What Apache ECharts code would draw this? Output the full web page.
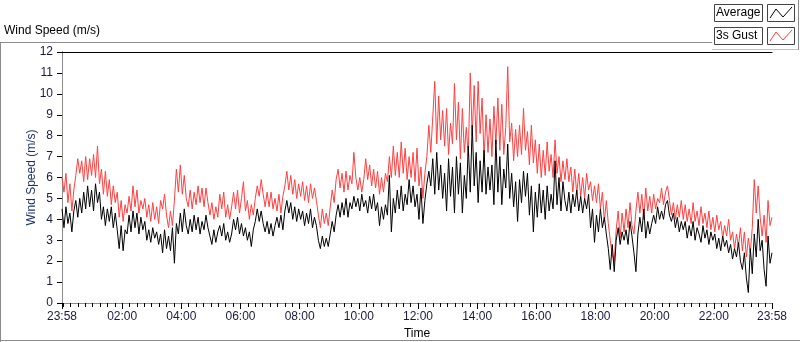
<!DOCTYPE html>
<html>
<head>
<meta charset="utf-8">
<script src="https://cdn.jsdelivr.net/npm/echarts@6/dist/echarts.min.js"></script>
<style>
html, body { margin: 0; padding: 0; background: #fff; }
#chart { width: 800px; height: 342px; }
</style>
</head>
<body>
<div id="chart"></div>
<script>
// one sample every 4 minutes, first sample at 23:58
const STEP = 4

// average wind speed (m/s), one row per hour
const avg = [
    4.5, 3.6, 4.6, 3.8, 4.3, 3.4, 4.4, 4.9, 4.1, 5.0, 4.3, 5.3, 4.5, 5.6, 4.6,
    5.4, 4.4, 5.7, 4.8, 5.3, 4.0, 4.6, 3.7, 4.5, 3.9, 4.6, 3.6, 4.3, 3.5, 2.6,
    3.7, 2.5, 3.5, 3.3, 4.2, 3.4, 4.4, 3.6, 4.3, 3.3, 4.1, 3.5, 3.9, 3.0, 3.5,
    2.9, 3.6, 3.1, 3.4, 2.8, 3.3, 2.4, 3.5, 2.6, 3.2, 2.5, 3.6, 1.9, 3.8, 3.3,
    4.3, 3.4, 4.5, 3.7, 3.3, 4.0, 3.4, 4.2, 3.5, 4.1, 3.3, 3.9, 3.5, 4.2, 3.6,
    3.2, 2.8, 3.5, 2.9, 3.4, 3.7, 3.2, 3.8, 3.0, 3.4, 2.9, 3.3, 4.0, 3.5, 4.1,
    3.3, 3.8, 3.2, 3.6, 3.0, 3.4, 2.7, 3.5, 3.9, 4.5, 3.9, 4.4, 3.8, 3.4, 3.9,
    3.3, 3.8, 3.2, 3.7, 4.1, 3.6, 4.2, 3.5, 4.4, 4.9, 4.3, 4.8, 4.0, 4.6, 3.9,
    4.5, 4.0, 4.4, 3.7, 4.3, 3.8, 4.5, 3.6, 4.1, 3.7, 3.0, 2.6, 3.2, 2.7, 3.1,
    2.7, 3.3, 3.9, 3.4, 4.2, 4.7, 4.1, 4.8, 4.2, 5.0, 4.1, 4.8, 4.5, 5.1, 4.6,
    5.0, 4.4, 5.2, 4.6, 4.9, 4.3, 5.1, 4.5, 5.2, 4.4, 4.8, 3.7, 4.6, 4.0, 4.7,
    4.2, 6.1, 3.4, 5.0, 4.3, 5.4, 4.5, 5.6, 4.4, 5.2, 4.7, 5.9, 4.8, 5.6, 4.6,
    5.2, 4.0, 5.5, 3.8, 4.9, 5.7, 6.3, 5.6, 6.9, 5.2, 7.2, 5.4, 6.6, 5.0, 6.2,
    4.4, 6.9, 5.1, 6.5, 4.3, 7.0, 5.2, 6.7, 4.3, 6.1, 5.0, 7.5, 5.3, 8.5, 5.6,
    7.2, 4.8, 6.8, 5.3, 7.3, 5.2, 6.5, 5.4, 6.6, 4.7, 7.8, 5.3, 7.0, 4.7, 6.4,
    5.5, 7.6, 5.0, 6.2, 4.6, 5.8, 3.9, 5.9, 4.8, 6.3, 5.1, 6.2, 4.2, 5.6, 3.4,
    5.3, 4.1, 5.7, 4.3, 5.4, 4.0, 5.6, 4.4, 5.2, 4.5, 6.8, 4.7, 6.0, 4.4, 5.8,
    4.9, 4.4, 5.3, 4.3, 5.2, 4.6, 5.4, 4.4, 5.1, 4.3, 5.0, 4.5, 5.2, 3.6, 4.5,
    2.9, 4.2, 3.4, 4.5, 3.6, 4.1, 3.3, 2.6, 1.6, 2.8, 1.5, 3.0, 3.6, 2.8, 3.4,
    3.0, 3.5, 2.8, 3.9, 3.2, 2.4, 1.5, 3.3, 4.1, 3.4, 4.5, 3.1, 3.9, 3.3, 3.8,
    4.2, 3.8, 4.6, 4.0, 4.4, 4.0, 4.7, 4.9, 4.2, 3.9, 4.3, 3.6, 4.1, 3.4, 3.9,
    3.5, 3.9, 3.1, 3.7, 3.2, 3.9, 3.0, 3.6, 3.3, 2.9, 3.7, 3.1, 3.5, 2.8, 3.4,
    3.0, 3.3, 2.6, 3.1, 2.5, 3.2, 2.7, 3.0, 2.4, 2.8, 2.1, 2.6, 2.2, 2.9, 2.0,
    1.6, 2.4, 1.2, 0.5, 2.6, 1.4, 3.3, 2.2, 4.0, 2.5, 3.0, 1.6, 0.8, 3.2, 1.9, 2.4
]

// 3 second gust (m/s), one row per hour
const gust = [
    6.0, 5.3, 6.2, 4.8, 5.7, 4.4, 5.4, 6.1, 6.9, 6.2, 6.8, 5.8, 7.0, 5.9, 6.9,
    6.1, 7.1, 6.0, 7.5, 5.7, 6.4, 5.2, 6.3, 5.1, 5.9, 4.7, 5.6, 4.8, 5.3, 4.1,
    4.9, 3.9, 4.7, 4.3, 5.1, 4.4, 5.6, 4.6, 5.4, 4.3, 4.9, 4.5, 5.0, 4.1, 4.7,
    3.9, 4.8, 4.0, 4.6, 3.8, 4.9, 4.5, 5.2, 4.2, 3.6, 4.4, 3.7, 4.9, 6.4, 5.3,
    6.6, 5.2, 6.1, 5.0, 4.6, 5.4, 4.5, 5.3, 4.7, 5.6, 4.8, 5.5, 4.6, 5.5, 4.8,
    4.2, 4.8, 4.0, 4.6, 4.1, 5.2, 4.5, 5.3, 4.1, 4.7, 4.0, 4.6, 5.3, 4.5, 5.4,
    4.3, 5.0, 5.8, 4.4, 4.9, 4.0, 4.7, 4.2, 5.0, 5.6, 5.1, 5.9, 5.2, 4.6, 5.3,
    4.6, 5.3, 4.5, 5.0, 4.4, 5.2, 4.3, 5.1, 5.6, 6.3, 5.4, 6.1, 5.2, 5.9, 5.0,
    5.7, 5.1, 5.8, 4.9, 5.6, 4.8, 5.7, 5.0, 5.5, 4.9, 4.2, 3.6, 4.5, 3.8, 4.3,
    3.7, 4.6, 5.4, 4.8, 5.9, 6.4, 5.5, 6.2, 5.3, 6.3, 5.4, 6.1, 5.7, 7.2, 6.0,
    5.4, 6.0, 5.3, 5.9, 6.9, 5.9, 6.6, 5.6, 6.4, 5.5, 6.3, 5.2, 6.0, 5.3, 6.2,
    5.8, 7.0, 6.0, 7.5, 6.1, 7.2, 6.0, 7.7, 6.2, 7.4, 5.9, 7.0, 6.0, 7.2, 5.8,
    7.4, 5.6, 6.5, 5.0, 6.2, 7.0, 8.5, 7.2, 8.9, 10.6, 7.6, 9.9, 7.8, 9.2, 7.5,
    9.3, 7.1, 8.6, 7.6, 10.5, 7.8, 9.6, 6.9, 9.3, 7.2, 8.4, 7.0, 11.0, 8.0, 10.4,
    7.7, 10.6, 8.1, 9.8, 6.9, 9.0, 7.2, 8.8, 7.0, 9.4, 7.6, 9.8, 7.3, 9.5, 7.1,
    8.4, 11.3, 7.7, 8.6, 6.8, 8.3, 7.0, 8.5, 7.1, 9.3, 7.3, 8.2, 6.6, 8.5, 6.7,
    7.8, 6.2, 7.6, 6.0, 7.3, 6.1, 7.7, 6.3, 7.1, 6.0, 7.8, 6.2, 7.0, 5.8, 6.8,
    5.9, 6.9, 5.8, 6.5, 5.3, 6.4, 5.2, 6.2, 5.1, 6.0, 5.0, 6.2, 5.4, 5.8, 4.9,
    5.6, 4.8, 5.7, 4.5, 5.3, 3.9, 4.9, 3.8, 3.0, 2.3, 2.0, 3.5, 4.4, 3.1, 4.3,
    3.4, 4.5, 3.6, 4.8, 3.7, 3.3, 4.4, 5.3, 4.3, 5.2, 4.0, 5.5, 4.4, 5.1, 4.3,
    5.2, 4.5, 5.0, 4.8, 5.5, 4.7, 5.3, 5.6, 4.9, 4.2, 4.8, 4.0, 4.7, 4.1, 4.9,
    4.0, 4.7, 3.9, 4.5, 3.8, 4.8, 3.9, 4.4, 3.7, 4.6, 3.8, 4.3, 3.6, 4.4, 3.5,
    4.1, 3.4, 4.2, 3.5, 3.9, 3.1, 3.7, 3.2, 4.0, 3.0, 3.4, 2.6, 3.3, 2.7, 3.6,
    2.5, 3.4, 2.2, 3.1, 2.4, 3.6, 5.9, 4.3, 5.6, 4.1, 3.2, 4.2, 2.9, 4.9, 3.7, 4.1
]

// x axis: minutes after 23:58
const majorTicks = [0, 122, 242, 362, 482, 602, 722, 842, 962, 1082, 1202, 1322, 1440]
const tickLabels = ['23:58', '02:00', '04:00', '06:00', '08:00', '10:00', '12:00',
    '14:00', '16:00', '18:00', '20:00', '22:00', '23:58']
const minorTicks = []
for (let m = 2; m < 1440; m += 15) {
    if (majorTicks.indexOf(m) < 0) minorTicks.push(m)
}

const FONT = "'Liberation Sans', Arial, sans-serif"
const GREY = '#8c8c8c'

const chart = echarts.init(document.getElementById('chart'))

chart.setOption({
    animation: false,
    backgroundColor: '#fff',
    textStyle: { fontFamily: FONT },
    grid: {
        left: 62,
        right: 28,
        top: 52,
        bottom: 39,
        outerBoundsMode: 'none'
    },
    xAxis: [
        {
            type: 'value',
            min: 0,
            max: 1440,
            name: 'Time',
            nameLocation: 'middle',
            nameGap: 25,
            nameMoveOverlap: false,
            nameTextStyle: { color: '#000', fontSize: 12, fontFamily: FONT },
            axisLine: { lineStyle: { color: GREY, width: 1 } },
            axisTick: {
                customValues: majorTicks,
                length: 6,
                lineStyle: { color: '#000', width: 1 }
            },
            axisLabel: {
                customValues: majorTicks,
                margin: 8,
                color: '#1a1a40',
                fontSize: 12,
                fontFamily: FONT,
                formatter: v => tickLabels[majorTicks.indexOf(v)] || ''
            },
            splitLine: { show: false }
        },
        {
            type: 'value',
            min: 0,
            max: 1440,
            position: 'bottom',
            axisLine: { show: false },
            axisTick: {
                customValues: minorTicks,
                length: 4,
                lineStyle: { color: '#000', width: 1 }
            },
            axisLabel: { show: false },
            splitLine: { show: false }
        },
        {
            // black top edge of the plot
            type: 'value',
            min: 0,
            max: 1440,
            position: 'top',
            axisLine: { lineStyle: { color: '#000', width: 1 } },
            axisTick: { show: false },
            axisLabel: { show: false },
            splitLine: { show: false }
        }
    ],
    yAxis: [
        {
            type: 'value',
            min: 0,
            max: 12,
            interval: 1,
            name: 'Wind Speed (m/s)',
            nameLocation: 'middle',
            nameGap: 24,
            nameMoveOverlap: false,
            nameTextStyle: { color: '#1f3270', fontSize: 12, fontFamily: FONT },
            axisLine: { show: true, lineStyle: { color: '#000', width: 1 } },
            axisTick: { show: true, length: 5, lineStyle: { color: '#000' } },
            axisLabel: { margin: 9, color: '#1a1a40', fontSize: 12, fontFamily: FONT },
            splitLine: { show: false }
        },
        {
            // grey right edge of the plot
            type: 'value',
            min: 0,
            max: 12,
            position: 'right',
            axisLine: { show: true, lineStyle: { color: GREY, width: 1 } },
            axisTick: { show: false },
            axisLabel: { show: false },
            splitLine: { show: false }
        }
    ],
    series: [
        {
            name: '3s Gust',
            type: 'line',
            showSymbol: false,
            symbol: 'none',
            lineStyle: { color: '#ff4040', width: 1 },
            data: gust.map((v, i) => [i * STEP, v])
        },
        {
            name: 'Average',
            type: 'line',
            showSymbol: false,
            symbol: 'none',
            lineStyle: { color: '#000', width: 1 },
            data: avg.map((v, i) => [i * STEP, v])
        }
    ],
    graphic: [
        // outer panel frame
        { type: 'line', silent: true, shape: { x1: 0.5, y1: 42, x2: 0.5, y2: 342 }, style: { stroke: GREY, lineWidth: 1 } },
        { type: 'line', silent: true, shape: { x1: 0, y1: 42.5, x2: 712, y2: 42.5 }, style: { stroke: GREY, lineWidth: 1 } },
        { type: 'line', silent: true, shape: { x1: 0, y1: 340.5, x2: 800, y2: 340.5 }, style: { stroke: GREY, lineWidth: 1 } },
        { type: 'text', silent: true, left: 4, top: 25, style: { text: 'Wind Speed (m/s)', fill: '#000', font: '12px ' + FONT } },
        // legend panel
        { type: 'line', silent: true, shape: { x1: 712, y1: 49.5, x2: 799, y2: 49.5 }, style: { stroke: '#c0c0c0', lineWidth: 1 } },
        { type: 'line', silent: true, shape: { x1: 798.5, y1: 0, x2: 798.5, y2: 50 }, style: { stroke: GREY, lineWidth: 1 } },
        { type: 'rect', silent: true, shape: { x: 714.5, y: 4.5, width: 48, height: 17 }, style: { fill: '#fff', stroke: '#444', lineWidth: 1 } },
        { type: 'rect', silent: true, shape: { x: 767.5, y: 4.5, width: 27, height: 17 }, style: { fill: '#fff', stroke: '#444', lineWidth: 1 } },
        { type: 'text', silent: true, left: 716, top: 7, style: { text: 'Average', fill: '#000', font: '12px ' + FONT } },
        { type: 'polyline', silent: true, shape: { points: [[770, 18], [776, 9], [783, 17], [792, 7]] }, style: { stroke: '#000', lineWidth: 1, fill: null } },
        { type: 'rect', silent: true, shape: { x: 714.5, y: 27.5, width: 48, height: 17 }, style: { fill: '#fff', stroke: '#444', lineWidth: 1 } },
        { type: 'rect', silent: true, shape: { x: 767.5, y: 27.5, width: 27, height: 17 }, style: { fill: '#fff', stroke: '#444', lineWidth: 1 } },
        { type: 'text', silent: true, left: 716, top: 30, style: { text: '3s Gust', fill: '#000', font: '12px ' + FONT } },
        { type: 'polyline', silent: true, shape: { points: [[770, 41], [776, 32], [783, 40], [792, 30]] }, style: { stroke: '#ff4040', lineWidth: 1, fill: null } }
    ]
})
</script>
</body>
</html>
